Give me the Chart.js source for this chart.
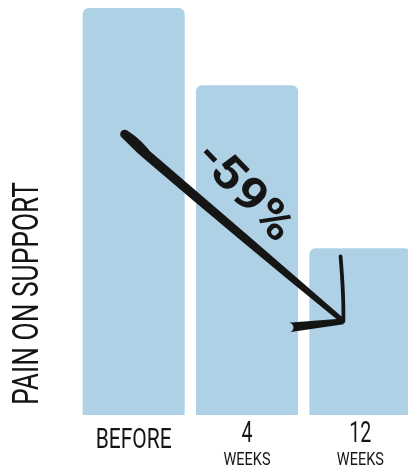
<!DOCTYPE html>
<html>
<head>
<meta charset="utf-8">
<script src="https://cdn.jsdelivr.net/npm/chart.js@4"></script>
<style>
    html, body { margin: 0; padding: 0; background: #fff; overflow: hidden; }
    #wrap { width: 408px; height: 470px; overflow: hidden; }
</style>
</head>
<body>
<div id="wrap"><canvas id="painChart" width="418" height="470"></canvas></div>
<script>
// chart data
const categories = ['BEFORE', '4', '12'];
const subLabels = ['', 'WEEKS', 'WEEKS'];
const painValues = [100, 81, 41];
const axisTitle = 'PAIN ON SUPPORT';
const changeLabel = '-59%';
// arrow runs from the first bar to the last one (value units)
const arrowFrom = { index: 0, value: 69 };
const arrowTo = { index: 2, value: 23 };

const barColor = '#aed1e5';
const inkColor = '#151515';

// fit text to a wanted width by squeezing it sideways (condensed look)
function fitText(ctx, text, x, y, font, width, align) {
    ctx.save();
    ctx.font = font;
    const w = ctx.measureText(text).width;
    const sx = width / w;
    ctx.translate(x, y);
    ctx.scale(sx, 1);
    ctx.textAlign = align || 'center';
    ctx.textBaseline = 'alphabetic';
    ctx.fillText(text, 0, 0);
    ctx.restore();
}

const labelsPlugin = {
    id: 'labels',
    afterDraw(chart) {
        const ctx = chart.ctx;
        const area = chart.chartArea;
        const meta = chart.getDatasetMeta(0);
        ctx.fillStyle = inkColor;

        // y axis title, rotated, sitting toward the bottom
        ctx.save();
        ctx.translate(38, area.bottom - 10);
        ctx.rotate(-Math.PI / 2);
        fitText(ctx, axisTitle, 0, 0, '36px Roboto', 223, 'left');
        ctx.restore();

        meta.data.forEach((bar, i) => {
            const cat = categories[i];
            if (subLabels[i]) {
                fitText(ctx, cat, bar.x, area.bottom + 27, '29px Roboto', cat.length * 11, 'center');
                fitText(ctx, subLabels[i], bar.x, area.bottom + 50, '18px Roboto', 47, 'center');
            } else {
                fitText(ctx, cat, bar.x, area.bottom + 33, '28px Roboto', 76, 'center');
            }
        });
    }
};

const arrowPlugin = {
    id: 'arrow',
    afterDatasetsDraw(chart) {
        const ctx = chart.ctx;
        const y = chart.scales.y;
        const meta = chart.getDatasetMeta(0);
        const b0 = meta.data[arrowFrom.index];
        const b2 = meta.data[arrowTo.index];
        const sx = b0.x - 9, sy = y.getPixelForValue(arrowFrom.value);
        const ex = b2.x - 17, ey = y.getPixelForValue(arrowTo.value);
        const ang = Math.atan2(ey - sy, ex - sx);
        const len = Math.hypot(ex - sx, ey - sy);

        ctx.save();
        ctx.fillStyle = inkColor;
        ctx.strokeStyle = inkColor;
        ctx.translate(sx, sy);
        ctx.rotate(ang);

        // shaft: brush stroke with a round blob at the start
        ctx.beginPath();
        ctx.moveTo(0, -4.5);
        ctx.bezierCurveTo(12, -6, 20, -5.5, 30, -3.5);
        ctx.quadraticCurveTo(len * 0.55, -3.5, len, -2.6);
        ctx.lineTo(len, 2.6);
        ctx.quadraticCurveTo(len * 0.55, 6, 30, 6);
        ctx.bezierCurveTo(20, 6.5, 10, 5, 0, 4.5);
        ctx.arc(0, 0, 4.5, Math.PI / 2, Math.PI * 1.5);
        ctx.fill();

        // arrow head barbs
        const back = Math.PI;
        const spread = 0.82;
        // long thin barb, a bit bowed
        const a1 = back + spread;
        ctx.lineCap = 'round';
        ctx.lineWidth = 3.8;
        ctx.beginPath();
        ctx.moveTo(len, 0);
        ctx.quadraticCurveTo(len + Math.cos(a1) * 30 + 5, Math.sin(a1) * 30 + 3,
            len + Math.cos(a1) * 65, Math.sin(a1) * 65);
        ctx.stroke();
        // short fat barb
        const a2 = back - spread;
        const bx = len + Math.cos(a2) * 55, by = Math.sin(a2) * 55;
        const nx = -Math.sin(a2), ny = Math.cos(a2);
        ctx.beginPath();
        ctx.moveTo(len + nx * 2.8, ny * 2.8);
        ctx.lineTo(bx + nx * 4.8, by + ny * 4.8);
        ctx.arc(bx, by, 4.8, a2 + Math.PI / 2, a2 + Math.PI * 1.5);
        ctx.lineTo(len - nx * 2.8, -ny * 2.8);
        ctx.closePath();
        ctx.fill();

        // percentage, written along the arrow
        ctx.translate(len * 0.5 - 15, -37);
        ctx.rotate(0.09);
        fitText(ctx, changeLabel, 0, 16, 'bold 46px Roboto', 120, 'center');
        ctx.restore();
    }
};

const ctx = document.getElementById('painChart').getContext('2d');
new Chart(ctx, {
    type: 'bar',
    data: {
        labels: categories,
        datasets: [{
            data: painValues,
            backgroundColor: barColor,
            borderWidth: 0,
            borderRadius: { topLeft: 6, topRight: 6, bottomLeft: 0, bottomRight: 0 },
            borderSkipped: 'bottom',
            categoryPercentage: 1,
            barPercentage: 0.9
        }]
    },
    options: {
        responsive: false,
        animation: false,
        layout: { padding: { left: 77, right: 1, top: 8, bottom: 55 } },
        plugins: {
            legend: { display: false },
            tooltip: { enabled: false }
        },
        scales: {
            x: { display: false },
            y: { display: false, min: 0, max: 100 }
        }
    },
    plugins: [arrowPlugin, labelsPlugin]
});
</script>
</body>
</html>
